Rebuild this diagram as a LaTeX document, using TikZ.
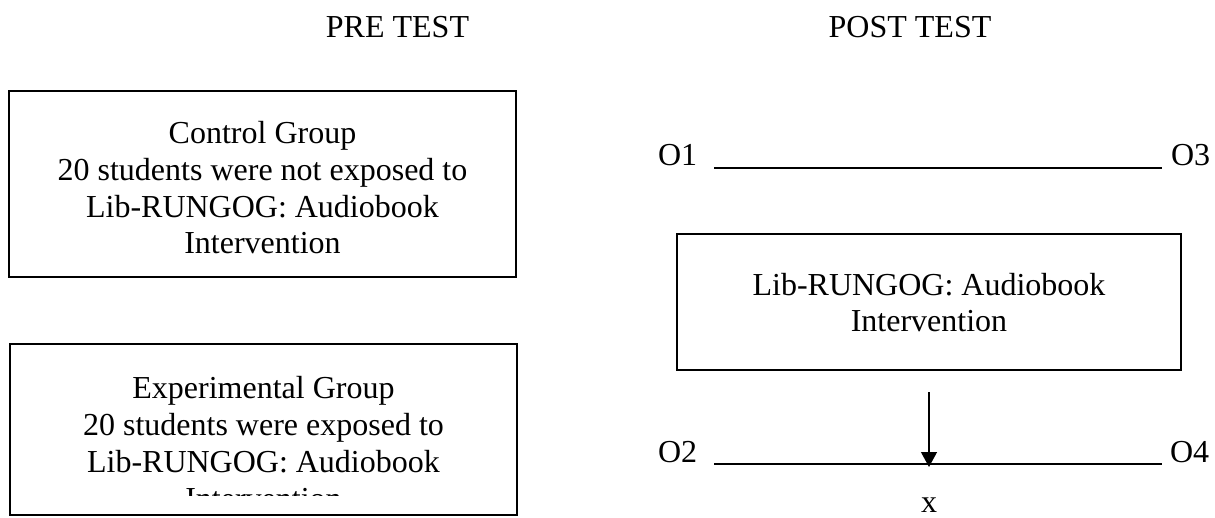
\documentclass[tikz,border=0pt]{standalone}
\usepackage{fontspec}
\setmainfont{Liberation Serif}
\usetikzlibrary{arrows.meta}
\begin{document}
\begin{tikzpicture}[x=1pt,y=-1pt,
  every node/.style={font=\fontsize{32}{36.8}\selectfont, inner sep=0pt, outer sep=0pt},
  framebox/.style={draw=black, line width=1.3pt},
  txt/.style={anchor=base, align=center},
  olab/.style={anchor=base west},
  obsline/.style={line width=1.4pt},
  arr/.style={line width=1.3pt, -{Triangle[length=15pt,width=16pt]}},
]
\useasboundingbox (0,0) rectangle (1215,518);

% headings
\node[txt] (pre) at (397.5,38) {PRE TEST};
\node[txt] (post) at (910,38) {POST TEST};

% boxes
\node[framebox, minimum width=507pt, minimum height=186pt] (ctrl) at (262.5,184) {};
\node[framebox, minimum width=507pt, minimum height=171pt] (expt) at (263.5,429.5) {};
\node[framebox, minimum width=504pt, minimum height=136pt] (intv) at (929,302) {};

% box texts (base anchor = baseline of the last line)
\node[txt] (ctrltxt) at (262.5,254) {Control Group\\20 students were not exposed to\\Lib-RUNGOG: Audiobook\\Intervention};
\begin{scope}
  \clip (10,344) rectangle (517,495);
  \node[txt] (expttxt) at (263.5,509) {Experimental Group\\20 students were exposed to\\Lib-RUNGOG: Audiobook\\Intervention};
\end{scope}
\node[txt] (intvtxt) at (929,332) {Lib-RUNGOG: Audiobook\\Intervention};

% observations
\node[olab] (o1) at (658,166) {O1};
\node[olab] (o3) at (1171,166) {O3};
\node[olab] (o2) at (658,462) {O2};
\node[olab] (o4) at (1170,462) {O4};
\coordinate (l1a) at (714,168);
\coordinate (l1b) at (1162,168);
\coordinate (l2a) at (714,464);
\coordinate (l2b) at (1162,464);
\draw[obsline] (l1a) -- (l1b);
\draw[obsline] (l2a) -- (l2b);

% treatment arrow
\coordinate (atop) at (929,392);
\coordinate (atip) at (929,467);
\draw[arr] (atop) -- (atip);
\node[txt] (xlab) at (929,512) {x};
\end{tikzpicture}
\end{document}
